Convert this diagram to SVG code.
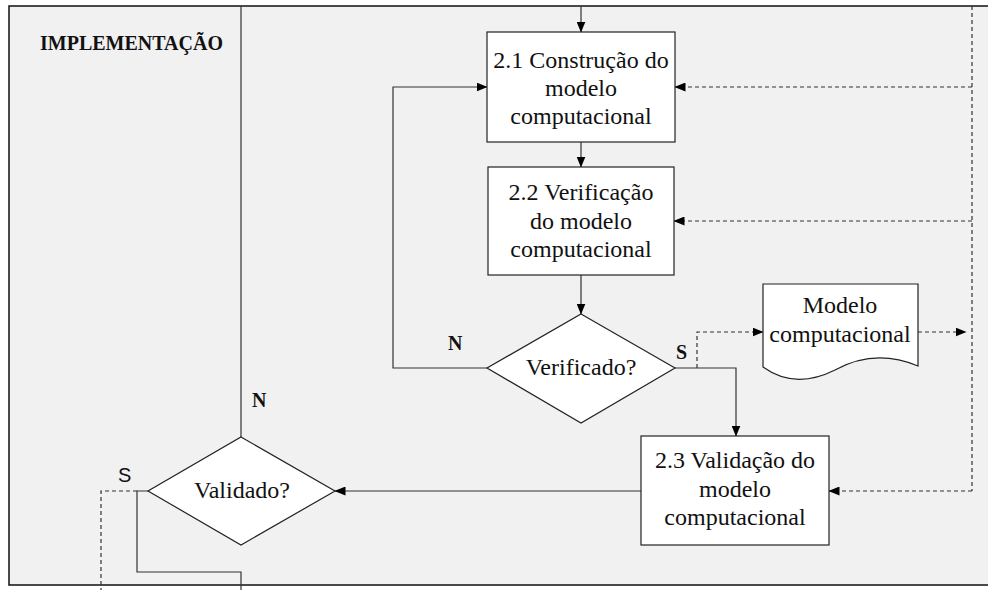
<svg xmlns="http://www.w3.org/2000/svg" width="988" height="590" viewBox="0 0 988 590">
  <style>
    .box { fill: #ffffff; stroke: #222222; stroke-width: 1.2; }
    .lbl { font-family: "Liberation Serif", "Times New Roman", serif; font-size: 24px; fill: #111111; text-anchor: middle; }
    .yn { font-family: "Liberation Serif", "Times New Roman", serif; font-size: 20px; font-weight: bold; fill: #111111; }
    .flow { fill: none; stroke: #333333; stroke-width: 1.2; }
    .dash { fill: none; stroke: #333333; stroke-width: 1.2; stroke-dasharray: 4 3; }
  </style>
  <defs>
    <marker id="arr" markerWidth="11" markerHeight="9" refX="10.5" refY="4.5" orient="auto" markerUnits="userSpaceOnUse">
      <path d="M0,0 L11,4.5 L0,9 Z" fill="#000000"/>
    </marker>
  </defs>

  <!-- lane background and frame -->
  <rect x="9" y="6" width="985" height="579" fill="#f1f1f1"/>
  <path d="M988,6 H9 V585 H988" fill="none" stroke="#111111" stroke-width="1.5"/>
  <text x="40" y="50" font-family="'Liberation Serif', 'Times New Roman', serif" font-size="20" font-weight="bold" fill="#111111">IMPLEMENTAÇÃO</text>

  <!-- connectors -->
  <g id="connectors">
    <line class="flow" x1="241" y1="6" x2="241" y2="437"/>
    <line class="flow" x1="581" y1="6" x2="581" y2="32" marker-end="url(#arr)"/>
    <line class="flow" x1="581" y1="142" x2="581" y2="167" marker-end="url(#arr)"/>
    <line class="flow" x1="581" y1="275" x2="581" y2="314" marker-end="url(#arr)"/>
    <polyline class="flow" points="487,368 393,368 393,87 487,87" marker-end="url(#arr)"/>
    <polyline class="flow" points="675,368 736,368 736,436" marker-end="url(#arr)"/>
    <line class="flow" x1="641" y1="491" x2="335" y2="491" marker-end="url(#arr)"/>
    <polyline class="flow" points="148,491 137,491 137,572 241,572 241,590"/>
    <polyline class="dash" points="137,491 101,491 101,590"/>
    <line class="dash" x1="972" y1="6" x2="972" y2="491"/>
    <line class="dash" x1="972" y1="87" x2="675" y2="87" marker-end="url(#arr)"/>
    <line class="dash" x1="972" y1="221" x2="674" y2="221" marker-end="url(#arr)"/>
    <line class="dash" x1="972" y1="491" x2="829" y2="491" marker-end="url(#arr)"/>
    <polyline class="dash" points="697,368 697,332 763,332" marker-end="url(#arr)"/>
    <line class="dash" x1="918" y1="332" x2="966" y2="332" marker-end="url(#arr)"/>
  </g>

  <g id="construcao">
    <rect class="box" x="487" y="32" width="188" height="110"/>
    <text class="lbl" x="581" y="68">2.1 Construção do</text>
    <text class="lbl" x="581" y="96">modelo</text>
    <text class="lbl" x="581" y="124">computacional</text>
  </g>

  <g id="verificacao">
    <rect class="box" x="488" y="167" width="186" height="108"/>
    <text class="lbl" x="581" y="200">2.2 Verificação</text>
    <text class="lbl" x="581" y="229">do modelo</text>
    <text class="lbl" x="581" y="257">computacional</text>
  </g>

  <g id="verificado">
    <polygon class="box" points="581,314 675,368 581,423 487,368"/>
    <text class="lbl" x="581" y="375">Verificado?</text>
    <text class="yn" x="448" y="350">N</text>
    <text class="yn" x="676" y="359">S</text>
  </g>

  <g id="modelo-doc">
    <path class="box" d="M763,284 H918 V366 Q875,348 835,370 Q795,390 763,367 Z"/>
    <text class="lbl" x="840" y="313">Modelo</text>
    <text class="lbl" x="840" y="342">computacional</text>
  </g>

  <g id="validacao">
    <rect class="box" x="641" y="436" width="188" height="109"/>
    <text class="lbl" x="735" y="468">2.3 Validação do</text>
    <text class="lbl" x="735" y="497">modelo</text>
    <text class="lbl" x="735" y="525">computacional</text>
  </g>

  <g id="validado">
    <polygon class="box" points="241,437 335,491 241,545 148,491"/>
    <text class="lbl" x="242" y="498">Validado?</text>
    <text class="yn" x="252" y="407">N</text>
    <text x="118" y="482" font-family="'Liberation Sans', Arial, sans-serif" font-size="20" fill="#111111">S</text>
  </g>
</svg>
